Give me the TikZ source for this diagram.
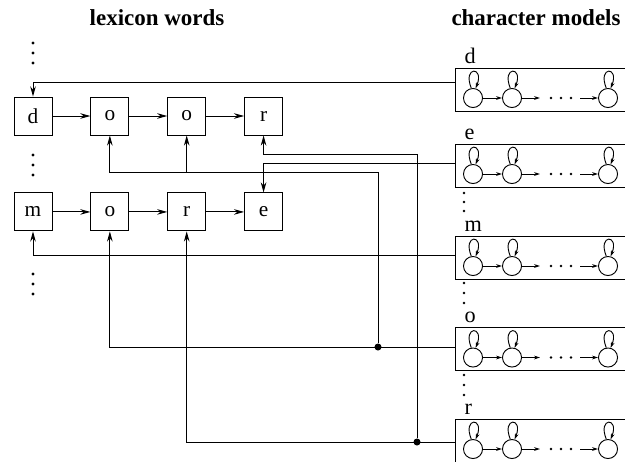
\documentclass[tikz,border=0pt]{standalone}
\usepackage{fontspec}
\setmainfont{Liberation Serif}
\usetikzlibrary{positioning}
\usetikzlibrary{arrows.meta}
\tikzset{%
  link/.style = {-{Stealth[length=5.5pt,width=3pt]}},
  smalllink/.style = {-{Stealth[length=3.2pt,width=2pt]}},
  lexbox/.style = {rectangle,draw,minimum width=20.5pt,
        minimum height=20.5pt,inner sep=0pt,font=\fontsize{11.5}{13}\selectfont},
  modbox/.style = {rectangle,draw,anchor=west,minimum width=92.8pt,
        minimum height=23.2pt,inner sep=0pt},
  hmmstate/.style = {circle,draw,minimum size=10.3pt,inner sep=0pt},
  junction/.style = {circle,fill,minimum size=3.8pt,inner sep=0pt},
  title/.style = {font=\bfseries\fontsize{12.4}{14}\selectfont}
}

\begin{document}
\begin{tikzpicture}[x=0.54pt,y=-0.54pt,node distance=30.8pt and 20.5pt,
    line width=0.5pt,font=\fontsize{12}{14}\selectfont]
   \useasboundingbox (0,0) rectangle (625,461);
   \node[title] (lextitle) at (157,18) {lexicon words};
   \node[title] (chartitle) at (536,18) {character models};
   % lexicon words
   \node[lexbox] (w1d) at (33,116) {d};
   \node[lexbox] (w1o) [right=of w1d] {o};
   \node[lexbox] (w1oo) [right=of w1o] {o};
   \node[lexbox] (w1r) [right=of w1oo] {r};
   \node[lexbox] (w2m) [below=of w1d] {m};
   \node[lexbox] (w2o) [right=of w2m] {o};
   \node[lexbox] (w2r) [right=of w2o] {r};
   \node[lexbox] (w2e) [right=of w2r] {e};
   \draw[link] (w1d) -- (w1o);
   \draw[link] (w1o) -- (w1oo);
   \draw[link] (w1oo) -- (w1r);
   \draw[link] (w2m) -- (w2o);
   \draw[link] (w2o) -- (w2r);
   \draw[link] (w2r) -- (w2e);
   \foreach \y in {43,53,63,155,165,175,274,284,294}
      \fill (33,\y) circle (0.9pt);
   % character models
   \foreach \n/\t/\cy/\ly in {md/d/89.5/82,me/e/165.5/163,mm/m/257.5/255,
         mo/o/349/347,mr/r/440.5/442} {
      \node[modbox,label={[anchor=base west,inner sep=0pt,xshift=5pt,
            yshift=2.3pt]north west:\t}] (\n) at (455,\cy) {};
      \coordinate (\n-in) at (455,\ly);
      \node[hmmstate] (\n-1) at (473,\cy+8.5) {};
      \node[hmmstate] (\n-2) at (512,\cy+8.5) {};
      \node[hmmstate] (\n-3) at (608,\cy+8.5) {};
      \coordinate (\n-a) at (540,\cy+8.5);
      \coordinate (\n-b) at (580,\cy+8.5);
      \draw[smalllink] (\n-1) -- (\n-2);
      \draw[smalllink] (\n-2) -- (\n-a);
      \draw[smalllink] (\n-b) -- (\n-3);
      \foreach \x in {551,561,571}
         \fill (\x,\cy+8.5) circle (0.7pt);
      \foreach \s in {1,2,3}
         \draw[smalllink] (\n-\s.100) .. controls +(112:13pt) and +(68:13pt) .. (\n-\s.75);
   }
   \foreach \y in {193,202,211,283,293,303,375,385,395}
      \fill (464,\y) circle (0.7pt);
   % connections
   \draw[link] (md-in) -| (w1d.north);
   \draw[link] (me-in) -| (w2e.north);
   \draw[link] (mm-in) -| (w2m.south);
   \draw[link] (mo-in) -| (w2o.south);
   \draw[link] (mr-in) -| (w2r.south);
   \node[junction] (j1) at (378,347) {};
   \node[junction] (j2) at (417,442) {};
   \coordinate (ob) at (378,172);
   \coordinate (rb) at (417,154);
   \draw[link] (j1) -- (ob) -| (w1o.south);
   \draw[link] (w1oo |- ob) -- (w1oo.south);
   \draw[link] (j2) -- (rb) -| (w1r.south);
\end{tikzpicture}
\end{document}
